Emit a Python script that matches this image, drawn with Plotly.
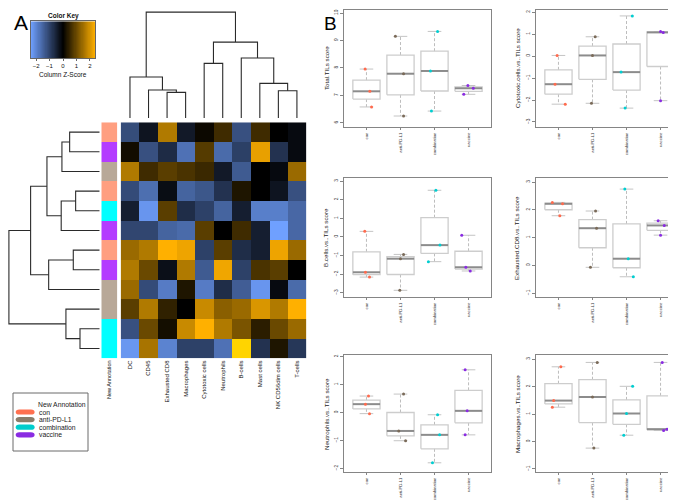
import math
import numpy as np
import plotly.graph_objects as go

W, H = 676, 500

# ---------------- data ----------------
cell_types = ["DC", "CD45", "Exhausted CD8", "Macrophages", "Cytotoxic cells",
              "Neutrophils", "B-cells", "Mast cells", "NK CD56dim cells", "T-cells"]
row_groups = ["con", "vaccine", "anti-PD-L1", "con", "combination", "vaccine",
              "con", "vaccine", "anti-PD-L1", "anti-PD-L1", "combination", "combination"]
zscore = [
    [-1.15, -0.30, 1.66, -0.38, 0.11, 0.59, -1.20, 0.59, 0.00, -0.15],
    [0.17, -1.20, -0.65, -1.70, 0.80, -1.60, -0.96, 2.18, -0.75, -0.15],
    [1.66, 0.59, 0.85, 0.70, 0.55, -0.38, -1.36, 0.00, -0.14, 1.45],
    [-1.13, -1.66, -0.19, -1.50, -1.30, -0.75, 0.28, 0.00, -0.30, -1.20],
    [-0.45, -2.24, 0.85, -0.68, -0.98, -1.50, -0.45, -1.90, -1.90, -1.55],
    [-1.05, -1.05, -1.50, -1.60, 0.85, 0.00, 0.59, -0.45, -2.40, -1.55],
    [1.45, 1.66, 2.40, 2.24, -0.98, 0.85, -0.68, -0.45, 2.24, 1.45],
    [1.66, 1.00, -0.23, 1.66, -1.36, 2.26, -0.98, 0.70, 0.85, 0.00],
    [1.45, -1.13, -1.85, 0.28, -1.85, -0.68, -1.40, -2.24, -0.15, -1.60],
    [0.85, 1.66, 0.45, 0.00, 1.88, 1.30, 1.45, 2.04, 1.66, 2.40],
    [-1.20, 1.00, 0.19, 1.88, 2.40, 1.66, 1.15, 0.40, 1.00, 1.45],
    [-2.26, 1.58, -1.96, -0.98, -0.98, -1.70, 2.95, -0.75, 0.28, -0.83],
]
groups = ["con", "anti-PD-L1", "combination", "vaccine"]
key_ticks = [-2, -1, 0, 1, 2]

# dendrograms: (child a, child b, merge height); leaves numbered in display order
row_merges = [(0, 1, 3.31), (12, 2, 4.16), (3, 4, 2.65), (14, 5, 4.24), (13, 15, 5.81),
              (6, 7, 2.91), (17, 8, 5.62), (16, 18, 7.61), (10, 11, 2.17), (9, 20, 3.72),
              (19, 21, 10.0)]
col_merges = [(2, 3, 2.42), (1, 10, 2.64), (0, 11, 3.87), (4, 5, 5.16), (8, 9, 2.58),
              (7, 14, 3.27), (6, 15, 5.66), (13, 16, 7.17), (12, 17, 10.0)]

panel_titles = ["Total.TILs score", "Cytotoxic.cells.vs..TILs score",
                "B.cells.vs..TILs score", "Exhausted.CD8.vs..TILs score",
                "Neutrophils.vs..TILs score", "Macrophages.vs..TILs score"]
total_tils = {"con": [7.96, 7.15, 6.58], "anti-PD-L1": [9.15, 7.79, 6.25],
              "combination": [9.33, 7.89, 6.43], "vaccine": [7.36, 7.26, 7.04]}
cytotoxic = {"con": [0.03, -1.28, -2.19], "anti-PD-L1": [0.88, 0.03, -2.15],
             "combination": [1.83, -0.73, -2.37], "vaccine": [1.12, 1.08, -2.03]}
bcells = {"con": [0.30, -1.90, -2.16], "anti-PD-L1": [-0.94, -1.17, -2.87],
          "combination": [2.51, -0.44, -1.33], "vaccine": [0.09, -1.63, -1.83]}
exhausted_cd8 = {"con": [2.27, 2.22, 1.79], "anti-PD-L1": [1.96, 1.34, -0.07],
                 "combination": [2.75, 0.24, -0.41], "vaccine": [1.61, 1.44, 1.09]}
neutrophils = {"con": [0.59, 0.30, -0.04], "anti-PD-L1": [0.66, -0.66, -1.01],
               "combination": [-0.08, -0.80, -1.80], "vaccine": [1.53, 0.06, -0.80]}
macrophages = {"con": [2.72, 1.49, 1.25], "anti-PD-L1": [2.88, 1.62, -0.24],
               "combination": [2.01, 1.02, 0.23], "vaccine": [2.88, 0.45, 0.40]}
panel_data = [total_tils, cytotoxic, bcells, exhausted_cd8, neutrophils, macrophages]
panel_yticks = [[6, 7, 8, 9, 10], [-3, -2, -1, 0, 1, 2], [-3, -2, -1, 0, 1, 2, 3],
                [-1, 0, 1, 2, 3], [-2, -1, 0, 1, 2], [-1, 0, 1, 2, 3]]

# ---------------- styles / positions ----------------
FONT = "Liberation Sans, Arial, Helvetica, sans-serif"
BLUE, BLACK, ORANGE, YELLOW = "#6FA0FF", "#000000", "#FFB000", "#FFD700"
ZMIN, ZKEY, ZMAX = -2.4, 2.4, 3.0
span = ZMAX - ZMIN
main_cs = [[0, BLUE], [(0 - ZMIN) / span, BLACK], [(ZKEY - ZMIN) / span, ORANGE], [1, YELLOW]]
key_cs = [[0, BLUE], [0.5, BLACK], [1, ORANGE]]
annot_col = {"con": "#FF9F80", "anti-PD-L1": "#B8A898", "combination": "#00FFFF", "vaccine": "#B43CFF"}
legend_col = {"con": "#FF7050", "anti-PD-L1": "#8B7D6B", "combination": "#00CDCD", "vaccine": "#8A2BE2"}
point_col = {"con": "#FF6A4D", "anti-PD-L1": "#7A6A58", "combination": "#00CED1", "vaccine": "#8A2BE2"}
jitter = [
    {"con": [-0.04, 0.10, 0.15], "anti-PD-L1": [-0.15, 0.09, 0.09], "combination": [0.09, -0.12, -0.09], "vaccine": [-0.02, 0.14, -0.14]},
    {"con": [-0.04, -0.10, 0.20], "anti-PD-L1": [0.08, 0.0, -0.03], "combination": [0.17, -0.16, -0.04], "vaccine": [0.0, 0.08, 0.0]},
    {"con": [-0.05, -0.03, 0.09], "anti-PD-L1": [0.09, 0.0, -0.02], "combination": [0.04, 0.16, -0.18], "vaccine": [-0.2, -0.08, 0.05]},
    {"con": [-0.18, 0.12, 0.04], "anti-PD-L1": [0.09, 0.12, -0.06], "combination": [-0.05, 0.05, 0.2], "vaccine": [-0.07, 0.11, 0.0]},
    {"con": [0.06, -0.03, 0.09], "anti-PD-L1": [0.09, -0.05, 0.15], "combination": [0.09, 0.15, -0.06], "vaccine": [-0.1, -0.04, -0.1]},
    {"con": [0.07, -0.14, -0.18], "anti-PD-L1": [0.14, 0.0, 0.04], "combination": [0.18, 0.0, -0.08], "vaccine": [0.05, 0.19, 0.09]},
]
panel_yrange = [[5.85, 10.11], [-3.23, 2.10], [-3.23, 3.17], [-1.14, 3.15], [-2.13, 2.06], [-1.11, 3.15]]
panel_xpx = [(336, 483), (528, 675)] * 3
panel_ypx = [(2, 119), (2, 119), (170, 289), (170, 289), (347, 464), (347, 464)]
title_pos = [(318, 60), (509, 60), (318, 230), (509, 230), (318, 406), (509, 406)]


def xd(a, b):
    return [a / W, b / W]


def yd(top, bottom):
    return [1 - bottom / H, 1 - top / H]


def px(x):
    return x / W


def py(y):
    return 1 - y / H


def fivenum(v):
    s = sorted(v)
    n = len(s)
    n4 = math.floor((n + 3) / 2) / 2
    d = [1, n4, (n + 1) / 2, n + 1 - n4, n]
    return [0.5 * (s[math.floor(di) - 1] + s[math.ceil(di) - 1]) for di in d]


def dendro(merges, n):
    pos = {i: float(i) for i in range(n)}
    hgt = {i: 0.0 for i in range(n)}
    p, h = [], []
    for k, (a, b, mh) in enumerate(merges):
        p += [pos[a], pos[a], pos[b], pos[b], None]
        h += [hgt[a], mh, mh, hgt[b], None]
        pos[n + k] = (pos[a] + pos[b]) / 2
        hgt[n + k] = mh
    return p, h


fig = go.Figure()
layout = dict(width=W, height=H, margin=dict(l=0, r=0, t=0, b=0),
              paper_bgcolor="white", plot_bgcolor="rgba(0,0,0,0)", showlegend=False,
              font=dict(family=FONT, color="#000"))
hidden = dict(showgrid=False, zeroline=False, showticklabels=False, ticks="", showline=False)

HX = (112.7, 298.2)
HY = (114.3, 350.3)

# heatmap
nr, nc = len(row_groups), len(cell_types)
fig.add_trace(go.Heatmap(z=zscore, x=list(range(nc)), y=list(range(nr)), colorscale=main_cs,
                         zmin=ZMIN, zmax=ZMAX, showscale=False, xaxis="x", yaxis="y",
                         hoverinfo="skip"))
layout["xaxis"] = dict(domain=xd(*HX), range=[-0.5, nc - 0.5], anchor="y", showgrid=False,
                       zeroline=False, tickmode="array", tickvals=list(range(nc)),
                       ticktext=cell_types, tickangle=-90, ticks="", ticklen=0,
                       tickfont=dict(size=6, family=FONT, color="#111"))
layout["yaxis"] = dict(domain=yd(*HY), range=[nr - 0.5, -0.5], anchor="x", **hidden)

# annotation column
gidx = [[groups.index(g)] for g in row_groups]
cs_disc = []
for i, g in enumerate(groups):
    cs_disc += [[i / 4, annot_col[g]], [(i + 1) / 4, annot_col[g]]]
fig.add_trace(go.Heatmap(z=gidx, x=[0], y=list(range(nr)), colorscale=cs_disc, zmin=-0.5,
                         zmax=3.5, showscale=False, xaxis="x2", yaxis="y2", hoverinfo="skip"))
layout["xaxis2"] = dict(domain=xd(93.3, 109.3), range=[-0.5, 0.5], anchor="y2", showgrid=False,
                        zeroline=False, tickmode="array", tickvals=[0], ticktext=["New Annotation"],
                        tickangle=-90, ticks="", tickfont=dict(size=5.5, family=FONT, color="#111"))
layout["yaxis2"] = dict(domain=yd(*HY), range=[nr - 0.5, -0.5], anchor="x2", **hidden)

# row dendrogram
rp, rh = dendro(row_merges, nr)
fig.add_trace(go.Scatter(x=rh, y=rp, mode="lines", line=dict(color="#2a2a2a", width=1.1),
                         xaxis="x3", yaxis="y3", hoverinfo="skip"))
layout["xaxis3"] = dict(domain=xd(0, 91.7), range=[10.1, 0], anchor="y3", **hidden)
layout["yaxis3"] = dict(domain=yd(*HY), range=[nr - 0.5, -0.5], anchor="x3", **hidden)

# column dendrogram
cp, ch = dendro(col_merges, nc)
fig.add_trace(go.Scatter(x=cp, y=ch, mode="lines", line=dict(color="#2a2a2a", width=1.1),
                         xaxis="x4", yaxis="y4", hoverinfo="skip"))
layout["xaxis4"] = dict(domain=xd(*HX), range=[-0.5, nc - 0.5], anchor="y4", **hidden)
layout["yaxis4"] = dict(domain=yd(2, 110), range=[0, 10.2], anchor="x4", **hidden)

# colour key
kz = np.linspace(-ZKEY, ZKEY, 121)
fig.add_trace(go.Heatmap(z=[kz], x=kz, y=[0], colorscale=key_cs, zmin=-ZKEY, zmax=ZKEY,
                         showscale=False, xaxis="x5", yaxis="y5", hoverinfo="skip"))
layout["xaxis5"] = dict(domain=xd(22.7, 87.3), range=[-ZKEY, ZKEY], anchor="y5", showgrid=False,
                        zeroline=False, showline=True, mirror=True, linecolor="#666", linewidth=1,
                        tickmode="array", tickvals=key_ticks, ticks="outside", ticklen=2,
                        tickcolor="#666", tickfont=dict(size=6, family=FONT, color="#111"))
layout["yaxis5"] = dict(domain=yd(13.3, 50), range=[-0.5, 0.5], anchor="x5", showgrid=False,
                        zeroline=False, showticklabels=False, ticks="", showline=True,
                        mirror=True, linecolor="#666", linewidth=1)

annotations = [
    dict(text="<b>Color Key</b>", x=px(55), y=py(7.5), xref="paper", yref="paper", showarrow=False,
         font=dict(size=6.5, family=FONT, color="#111"), xanchor="center", yanchor="middle"),
    dict(text="Column Z-Score", x=px(55), y=py(66), xref="paper", yref="paper", showarrow=False,
         font=dict(size=6.5, family=FONT, color="#111"), xanchor="center", yanchor="middle"),
    dict(text="A", x=px(4), y=py(14), xref="paper", yref="paper", showarrow=False,
         font=dict(size=21, family=FONT, color="#000"), xanchor="left", yanchor="middle"),
    dict(text="B", x=px(314), y=py(15), xref="paper", yref="paper", showarrow=False,
         font=dict(size=19, family=FONT, color="#000"), xanchor="left", yanchor="middle"),
]

# box plots
for k, data in enumerate(panel_data):
    ax = 6 + k
    xa, ya = f"x{ax}", f"y{ax}"
    boxx, boxy, medx, medy, whx, why, stx, sty = [], [], [], [], [], [], [], []
    for i, g in enumerate(groups):
        c = i + 1
        f = fivenum(data[g])
        boxx += [c - 0.4, c + 0.4, c + 0.4, c - 0.4, c - 0.4, None]
        boxy += [f[1], f[1], f[3], f[3], f[1], None]
        medx += [c - 0.4, c + 0.4, None]
        medy += [f[2], f[2], None]
        whx += [c, c, None, c, c, None]
        why += [f[3], f[4], None, f[1], f[0], None]
        stx += [c - 0.2, c + 0.2, None, c - 0.2, c + 0.2, None]
        sty += [f[4], f[4], None, f[0], f[0], None]
    common = dict(mode="lines", xaxis=xa, yaxis=ya, hoverinfo="skip")
    fig.add_trace(go.Scatter(x=whx, y=why, line=dict(color="#b5b5b5", width=0.9, dash="3px,2px"), **common))
    fig.add_trace(go.Scatter(x=stx, y=sty, line=dict(color="#c4c4c4", width=1), **common))
    fig.add_trace(go.Scatter(x=boxx, y=boxy, line=dict(color="#cdcdcd", width=1.3), **common))
    fig.add_trace(go.Scatter(x=medx, y=medy, line=dict(color="#8c8c8c", width=2), **common))
    for i, g in enumerate(groups):
        fig.add_trace(go.Scatter(x=[i + 1 + j for j in jitter[k][g]], y=data[g], mode="markers",
                                 marker=dict(color=point_col[g], size=3), xaxis=xa, yaxis=ya,
                                 hoverinfo="skip", cliponaxis=False))
    x0, x1 = panel_xpx[k]
    y0, y1 = panel_ypx[k]
    layout[f"xaxis{ax}"] = dict(domain=xd(x0, x1), range=[0.34, 4.66], anchor=ya, showgrid=False,
                                zeroline=False, showline=True, mirror=True, linecolor="#858585",
                                linewidth=1, tickmode="array", tickvals=[1, 2, 3, 4], ticktext=groups,
                                tickangle=-90, ticks="outside", ticklen=2, tickcolor="#858585",
                                ticklabelstandoff=1,
                                tickfont=dict(size=4.2, family=FONT, color="#333"))
    layout[f"yaxis{ax}"] = dict(domain=yd(y0, y1), range=panel_yrange[k], anchor=xa, showgrid=False,
                                zeroline=False, showline=True, mirror=True, linecolor="#858585",
                                linewidth=1, tickmode="array", tickvals=panel_yticks[k],
                                ticks="outside", ticklen=3, tickcolor="#858585", tickangle=-90,
                                tickfont=dict(size=4.8, family=FONT, color="#333"))
    tx, ty = title_pos[k]
    annotations.append(dict(text=panel_titles[k], x=px(tx), y=py(ty), xref="paper", yref="paper",
                            showarrow=False, textangle=-90,
                            font=dict(size=6.2, family=FONT, color="#222"),
                            xanchor="center", yanchor="middle"))

# legend for annotation groups
shapes = [dict(type="rect", xref="paper", yref="paper", x0=px(5), x1=px(80), y0=py(443), y1=py(385),
               line=dict(color="#6a6a6a", width=1), fillcolor="rgba(0,0,0,0)")]
annotations.append(dict(text="New Annotation", x=px(28), y=py(396), xref="paper", yref="paper",
                        showarrow=False, font=dict(size=6.8, family=FONT, color="#222"),
                        xanchor="left", yanchor="middle"))
leg_y = [404, 411.6, 419.2, 426.8]
for g, yy in zip(groups, leg_y):
    xa0, xa1, hh = 8.3, 26, 2.6
    r = 3
    path = (f"M {px(xa0 + r)},{py(yy - hh)} L {px(xa1 - r)},{py(yy - hh)} "
            f"Q {px(xa1 + 0.6)},{py(yy - hh)} {px(xa1 + 0.6)},{py(yy)} "
            f"Q {px(xa1 + 0.6)},{py(yy + hh)} {px(xa1 - r)},{py(yy + hh)} "
            f"L {px(xa0 + r)},{py(yy + hh)} "
            f"Q {px(xa0 - 0.6)},{py(yy + hh)} {px(xa0 - 0.6)},{py(yy)} "
            f"Q {px(xa0 - 0.6)},{py(yy - hh)} {px(xa0 + r)},{py(yy - hh)} Z")
    shapes.append(dict(type="path", path=path, xref="paper", yref="paper",
                       fillcolor=legend_col[g], line=dict(width=0)))
    annotations.append(dict(text=g, x=px(29), y=py(yy), xref="paper", yref="paper",
                            showarrow=False, font=dict(size=6.8, family=FONT, color="#222"),
                            xanchor="left", yanchor="middle"))

layout["annotations"] = annotations
layout["shapes"] = shapes
fig.update_layout(**layout)
fig.write_html("out.html")
